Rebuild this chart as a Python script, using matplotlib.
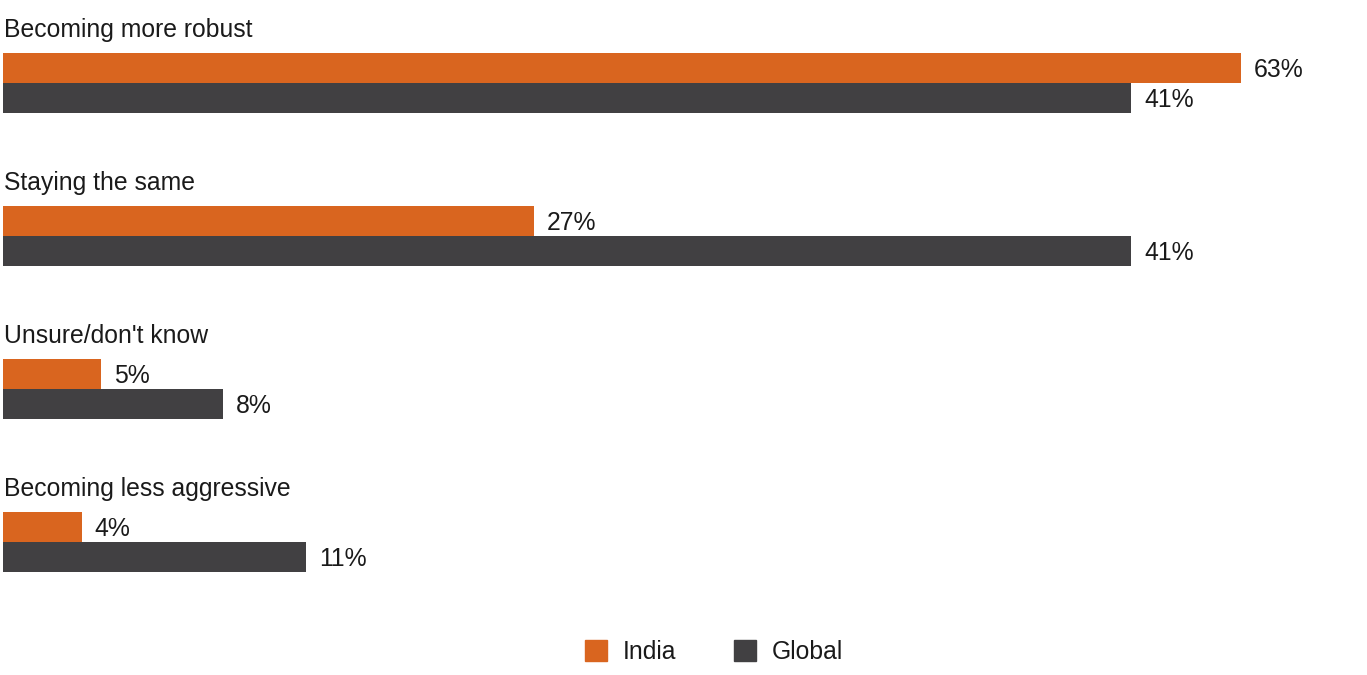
import matplotlib.pyplot as plt
from matplotlib.patches import Patch

plt.rcParams['font.family'] = ['Liberation Sans', 'DejaVu Sans']

categories = ['Becoming more robust', 'Staying the same', "Unsure/don't know", 'Becoming less aggressive']
india = [63, 27, 5, 4]
global_ = [41, 41, 8, 11]
series = ['India', 'Global']

orange = '#d9651f'
grey = '#414042'
txt = '#1a1a1a'

fig = plt.figure(figsize=(13.67, 6.75), dpi=100)
ax = fig.add_axes([3 / 1367, 0, 1364 / 1367, 1])
ax2 = ax.twiny()

# each series is drawn on its own horizontal scale
ax.set_xlim(0, 1364 / 19.65)
ax2.set_xlim(0, 1364 / 27.51)
for a in (ax, ax2):
    a.set_ylim(3.869, -0.5425)
    a.axis('off')

h = 0.196
pos = list(range(len(categories)))
ax.barh([p - h / 2 for p in pos], india, height=h, color=orange)
ax2.barh([p + h / 2 for p in pos], global_, height=h, color=grey)

fs = 17.8
for p, cat, vi, vg in zip(pos, categories, india, global_):
    ax.text(0.0007, p - 0.3, cat, fontsize=fs, color=txt, va='baseline', ha='left',
            transform=ax.get_yaxis_transform())
    ax.annotate(f'{vi}%', (vi, p - h / 2), xytext=(9.5, -1.5), textcoords='offset points',
                fontsize=fs, color=txt, va='center', ha='left')
    ax2.annotate(f'{vg}%', (vg, p + h / 2), xytext=(9.5, -1.5), textcoords='offset points',
                 fontsize=fs, color=txt, va='center', ha='left')

handles = [Patch(color=orange), Patch(color=grey)]
fig.legend(handles, series, loc='center', bbox_to_anchor=(714 / 1367, 1 - 652 / 675),
           ncol=2, frameon=False, fontsize=fs, handlelength=0.9, handleheight=0.9,
           handletextpad=0.66, columnspacing=2.3, labelcolor=txt)

fig.savefig('out.png', dpi=100)
